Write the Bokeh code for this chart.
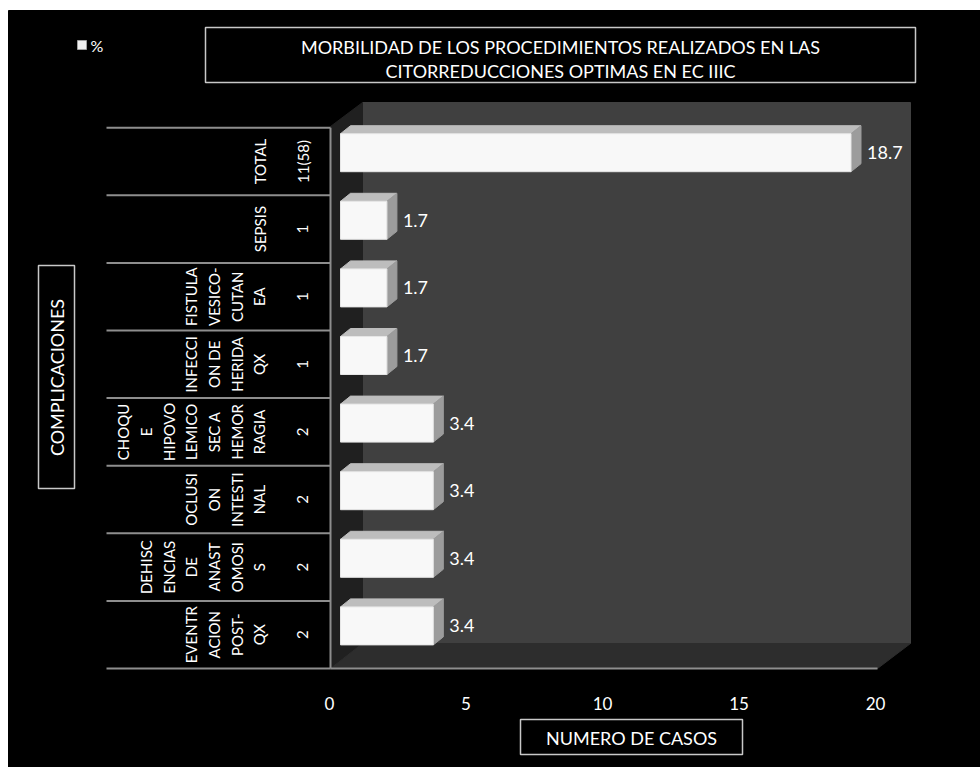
import math
from bokeh.plotting import figure
from bokeh.models import Range1d
from bokeh.core.properties import value
from bokeh.embed import file_html
from bokeh.resources import INLINE

# ---------------- data ----------------
categories = [
    "EVENTR\nACION\nPOST-\nQX",
    "DEHISC\nENCIAS\nDE\nANAST\nOMOSI\nS",
    "OCLUSI\nON\nINTESTI\nNAL",
    "CHOQU\nE\nHIPOVO\nLEMICO\nSEC A\nHEMOR\nRAGIA",
    "INFECCI\nON DE\nHERIDA\nQX",
    "FISTULA\nVESICO-\nCUTAN\nEA",
    "SEPSIS",
    "TOTAL",
]
counts = ["2", "2", "2", "2", "1", "1", "1", "11(58)"]
percent = [3.4, 3.4, 3.4, 3.4, 1.7, 1.7, 1.7, 18.7]
percent_labels = ["3.4", "3.4", "3.4", "3.4", "1.7", "1.7", "1.7", "18.7"]
x_ticks = [0, 5, 10, 15, 20]
title_lines = ["MORBILIDAD DE LOS PROCEDIMIENTOS REALIZADOS EN LAS",
               "CITORREDUCCIONES OPTIMAS EN EC IIIC"]
x_title = "NUMERO DE CASOS"
y_title = "COMPLICACIONES"
legend_label = "%"

# ---------------- layout helpers (pixel -> data) ----------------
W, H = 980, 767
X0, SX = 340.0, 27.3      # pixel of value 0, pixels per unit
Y0, SY = 668.0, 67.6      # pixel of row-bottom 0, pixels per row


def dx(px):
    return (px - X0) / SX


def dy(py):
    return (Y0 - py) / SY


FONT = value("Lato")

p = figure(width=W, height=H, x_range=Range1d(dx(0), dx(W)), y_range=Range1d(dy(H), dy(0)),
           min_border=0, toolbar_location=None, output_backend="svg",
           x_axis_location=None, y_axis_location=None,
           background_fill_color="white", border_fill_color="white",
           outline_line_color=None)
p.grid.visible = False

# black page
p.quad(left=dx(8), right=dx(W), top=dy(10), bottom=dy(H), color="black")

# 3D plot area: back wall, left wall, floor
p.quad(left=dx(362), right=dx(910), top=dy(102), bottom=dy(643), color="#404040")
p.patch([dx(330), dx(362), dx(362), dx(330)], [dy(126), dy(102), dy(643), dy(668)],
        color="#202020")
p.patch([dx(330), dx(877), dx(910), dx(362)], [dy(668), dy(668), dy(643), dy(643)],
        color="#2d2d2d")
p.line([dx(330), dx(877)], [dy(668), dy(668)], line_color="#8e8e8e", line_width=2)

# table lines
n = len(categories)
p.segment(x0=[dx(106)] * (n + 1), x1=[dx(330)] * (n + 1),
          y0=list(range(n + 1)), y1=list(range(n + 1)),
          line_color="#8e8e8e", line_width=2)
p.segment(x0=[dx(330)], x1=[dx(330)], y0=[0], y1=[n], line_color="#8e8e8e", line_width=2)

# table text
rows = list(range(n))
p.text(x=[dx(268)] * n, y=[k + 0.5 for k in rows], text=categories, angle=math.pi / 2,
       text_align="center", text_baseline="bottom", text_font=FONT,
       text_font_size="15px", text_line_height=1.26, text_color="white")
p.text(x=[dx(302)] * n, y=[k + 0.5 for k in rows], text=counts, angle=math.pi / 2,
       text_align="center", text_baseline="middle", text_font=FONT,
       text_font_size="15px", text_color="white")

# 3D bars
ox, oy = 10 / SX, 8 / SY
tops = [k + 1 - 6 / SY for k in rows]
bots = [k + 1 - 44 / SY for k in rows]
p.patches(xs=[[0, v, v + ox, ox] for v in percent],
          ys=[[t, t, t + oy, t + oy] for t in tops],
          fill_color="#bdbdbd", line_color="#bdbdbd")
p.patches(xs=[[v, v, v + ox, v + ox] for v in percent],
          ys=[[b, t, t + oy, b + oy] for b, t in zip(bots, tops)],
          fill_color="#9c9c9c", line_color="#9c9c9c")
p.quad(left=[0] * n, right=percent, bottom=bots, top=tops,
       fill_color="#f8f8f8", line_color="#e6e6e6")

# value labels
p.text(x=[v + 16 / SX for v in percent], y=[k + 1 - 25 / SY for k in rows],
       text=percent_labels, text_align="left", text_baseline="middle",
       text_font=FONT, text_font_size="18px", text_color="white")

# x tick labels
p.text(x=[t - 11 / SX for t in x_ticks], y=[dy(703)] * len(x_ticks),
       text=[str(t) for t in x_ticks], text_align="center", text_baseline="middle",
       text_font=FONT, text_font_size="17px", text_color="white")

# x title box
p.quad(left=dx(520), right=dx(742), top=dy(719), bottom=dy(754),
       fill_color=None, line_color="#c8c8c8", line_width=1.5)
p.text(x=[dx(631)], y=[dy(737)], text=[x_title], text_align="center",
       text_baseline="middle", text_font=FONT, text_font_size="18px", text_color="white")

# y title box
p.quad(left=dx(38), right=dx(74), top=dy(265), bottom=dy(488),
       fill_color=None, line_color="#c8c8c8", line_width=1.5)
p.text(x=[dx(56)], y=[dy(377)], text=[y_title], angle=math.pi / 2, text_align="center",
       text_baseline="middle", text_font=FONT, text_font_size="18px", text_color="white")

# chart title box
p.quad(left=dx(205), right=dx(915), top=dy(27), bottom=dy(82),
       fill_color=None, line_color="#c8c8c8", line_width=1.5)
p.text(x=[dx(560)] * 2, y=[dy(46), dy(70)], text=title_lines, text_align="center",
       text_baseline="middle", text_font=FONT, text_font_size="18px", text_color="white")

# legend
p.quad(left=dx(77), right=dx(86), top=dy(40), bottom=dy(49),
       fill_color="#f0f0f0", line_color="#a0a0a0")
p.text(x=[dx(90)], y=[dy(45)], text=[legend_label], text_align="left",
       text_baseline="middle", text_font=FONT, text_font_size="16px", text_color="white")

open("out.html", "w").write(file_html(p, INLINE))
